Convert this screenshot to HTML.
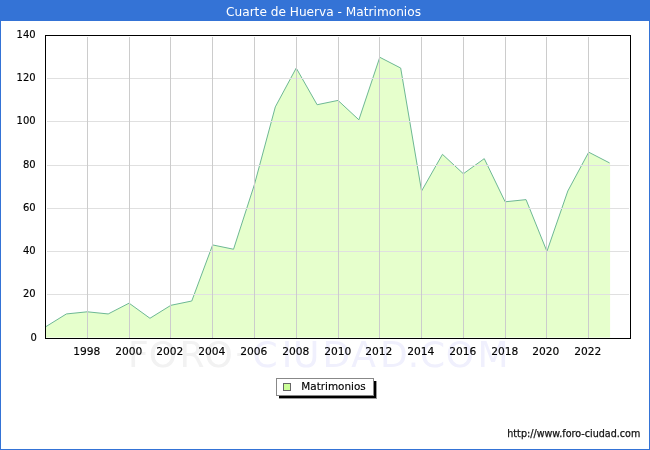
<!DOCTYPE html>
<html><head><meta charset="utf-8"><title>Cuarte de Huerva - Matrimonios</title>
<style>html,body{margin:0;padding:0;background:#fff;}svg{display:block;}</style>
</head><body>
<svg width="650" height="450" viewBox="0 0 650 450" style="will-change:transform">
<rect x="0" y="0" width="650" height="450" fill="#fff"/>
<text y="366.5" font-family="DejaVu Sans, sans-serif" font-size="36" font-kerning="none" fill="#f2f2f2"><tspan x="127.97 148.8 179.5 204.5">FORO</tspan></text>
<text x="235.5" y="363.5" font-family="DejaVu Sans, sans-serif" font-size="36" fill="#f2f2f2">-</text>
<text y="366.5" font-family="DejaVu Sans, sans-serif" font-size="36" font-kerning="none" fill="#f0f0fd"><tspan x="252.6 281.7 292.9 322.5 351.2 380.0 407.65 420.0 445.8 477.5">CIUDAD.COM</tspan></text>
<polygon points="45.50,337.5 45.50,326.89 66.39,313.95 87.29,311.80 108.18,313.95 129.07,303.17 149.96,318.27 170.86,305.32 191.75,301.01 212.64,244.93 233.54,249.24 254.43,184.53 275.32,106.88 296.21,68.06 317.11,104.72 338.00,100.41 358.89,119.82 379.79,57.27 400.68,68.06 421.57,191.00 442.46,154.34 463.36,173.75 484.25,158.65 505.14,201.79 526.04,199.63 546.93,251.40 567.82,191.00 588.71,152.18 609.61,162.96 610.1,162.96 610.1,337.5" fill="#e6ffcc" stroke="none"/>
<polyline points="45.50,326.89 66.39,313.95 87.29,311.80 108.18,313.95 129.07,303.17 149.96,318.27 170.86,305.32 191.75,301.01 212.64,244.93 233.54,249.24 254.43,184.53 275.32,106.88 296.21,68.06 317.11,104.72 338.00,100.41 358.89,119.82 379.79,57.27 400.68,68.06 421.57,191.00 442.46,154.34 463.36,173.75 484.25,158.65 505.14,201.79 526.04,199.63 546.93,251.40 567.82,191.00 588.71,152.18 609.61,162.96" fill="none" stroke="#6db894" stroke-width="1" stroke-linejoin="miter"/>
<g shape-rendering="crispEdges"><line x1="47" y1="78.5" x2="629" y2="78.5" stroke="#e0e0e0" stroke-width="1"/><line x1="47" y1="121.5" x2="629" y2="121.5" stroke="#e0e0e0" stroke-width="1"/><line x1="47" y1="165.5" x2="629" y2="165.5" stroke="#e0e0e0" stroke-width="1"/><line x1="47" y1="208.5" x2="629" y2="208.5" stroke="#e0e0e0" stroke-width="1"/><line x1="47" y1="251.5" x2="629" y2="251.5" stroke="#e0e0e0" stroke-width="1"/><line x1="47" y1="294.5" x2="629" y2="294.5" stroke="#e0e0e0" stroke-width="1"/><line x1="87.5" y1="37" x2="87.5" y2="338" stroke="#cccccc" stroke-width="1"/><line x1="129.5" y1="37" x2="129.5" y2="338" stroke="#cccccc" stroke-width="1"/><line x1="170.5" y1="37" x2="170.5" y2="338" stroke="#cccccc" stroke-width="1"/><line x1="212.5" y1="37" x2="212.5" y2="338" stroke="#cccccc" stroke-width="1"/><line x1="254.5" y1="37" x2="254.5" y2="338" stroke="#cccccc" stroke-width="1"/><line x1="296.5" y1="37" x2="296.5" y2="338" stroke="#cccccc" stroke-width="1"/><line x1="338.5" y1="37" x2="338.5" y2="338" stroke="#cccccc" stroke-width="1"/><line x1="379.5" y1="37" x2="379.5" y2="338" stroke="#cccccc" stroke-width="1"/><line x1="421.5" y1="37" x2="421.5" y2="338" stroke="#cccccc" stroke-width="1"/><line x1="463.5" y1="37" x2="463.5" y2="338" stroke="#cccccc" stroke-width="1"/><line x1="505.5" y1="37" x2="505.5" y2="338" stroke="#cccccc" stroke-width="1"/><line x1="546.5" y1="37" x2="546.5" y2="338" stroke="#cccccc" stroke-width="1"/><line x1="588.5" y1="37" x2="588.5" y2="338" stroke="#cccccc" stroke-width="1"/></g>
<rect x="45.5" y="35.5" width="585" height="303" fill="none" stroke="#000" stroke-width="1" shape-rendering="crispEdges"/>
<text x="36.9" y="340.9" text-anchor="end" font-family="DejaVu Sans, sans-serif" font-size="10.67" fill="#000" stroke="#000" stroke-width="0.15" textLength="6.35" lengthAdjust="spacingAndGlyphs">0</text>
<text x="35.6" y="296.9" text-anchor="end" font-family="DejaVu Sans, sans-serif" font-size="10.67" fill="#000" stroke="#000" stroke-width="0.15" textLength="12.70" lengthAdjust="spacingAndGlyphs">20</text>
<text x="35.6" y="253.9" text-anchor="end" font-family="DejaVu Sans, sans-serif" font-size="10.67" fill="#000" stroke="#000" stroke-width="0.15" textLength="12.70" lengthAdjust="spacingAndGlyphs">40</text>
<text x="35.6" y="210.9" text-anchor="end" font-family="DejaVu Sans, sans-serif" font-size="10.67" fill="#000" stroke="#000" stroke-width="0.15" textLength="12.70" lengthAdjust="spacingAndGlyphs">60</text>
<text x="35.6" y="167.9" text-anchor="end" font-family="DejaVu Sans, sans-serif" font-size="10.67" fill="#000" stroke="#000" stroke-width="0.15" textLength="12.70" lengthAdjust="spacingAndGlyphs">80</text>
<text x="35.6" y="123.9" text-anchor="end" font-family="DejaVu Sans, sans-serif" font-size="10.67" fill="#000" stroke="#000" stroke-width="0.15" textLength="19.05" lengthAdjust="spacingAndGlyphs">100</text>
<text x="35.6" y="80.9" text-anchor="end" font-family="DejaVu Sans, sans-serif" font-size="10.67" fill="#000" stroke="#000" stroke-width="0.15" textLength="19.05" lengthAdjust="spacingAndGlyphs">120</text>
<text x="35.6" y="37.9" text-anchor="end" font-family="DejaVu Sans, sans-serif" font-size="10.67" fill="#000" stroke="#000" stroke-width="0.15" textLength="19.05" lengthAdjust="spacingAndGlyphs">140</text>
<text x="86.7" y="355" text-anchor="middle" font-family="DejaVu Sans, sans-serif" font-size="10.67" fill="#000" stroke="#000" stroke-width="0.15">1998</text>
<text x="128.7" y="355" text-anchor="middle" font-family="DejaVu Sans, sans-serif" font-size="10.67" fill="#000" stroke="#000" stroke-width="0.15">2000</text>
<text x="169.7" y="355" text-anchor="middle" font-family="DejaVu Sans, sans-serif" font-size="10.67" fill="#000" stroke="#000" stroke-width="0.15">2002</text>
<text x="211.7" y="355" text-anchor="middle" font-family="DejaVu Sans, sans-serif" font-size="10.67" fill="#000" stroke="#000" stroke-width="0.15">2004</text>
<text x="253.7" y="355" text-anchor="middle" font-family="DejaVu Sans, sans-serif" font-size="10.67" fill="#000" stroke="#000" stroke-width="0.15">2006</text>
<text x="295.7" y="355" text-anchor="middle" font-family="DejaVu Sans, sans-serif" font-size="10.67" fill="#000" stroke="#000" stroke-width="0.15">2008</text>
<text x="337.7" y="355" text-anchor="middle" font-family="DejaVu Sans, sans-serif" font-size="10.67" fill="#000" stroke="#000" stroke-width="0.15">2010</text>
<text x="378.7" y="355" text-anchor="middle" font-family="DejaVu Sans, sans-serif" font-size="10.67" fill="#000" stroke="#000" stroke-width="0.15">2012</text>
<text x="420.7" y="355" text-anchor="middle" font-family="DejaVu Sans, sans-serif" font-size="10.67" fill="#000" stroke="#000" stroke-width="0.15">2014</text>
<text x="462.7" y="355" text-anchor="middle" font-family="DejaVu Sans, sans-serif" font-size="10.67" fill="#000" stroke="#000" stroke-width="0.15">2016</text>
<text x="504.7" y="355" text-anchor="middle" font-family="DejaVu Sans, sans-serif" font-size="10.67" fill="#000" stroke="#000" stroke-width="0.15">2018</text>
<text x="545.7" y="355" text-anchor="middle" font-family="DejaVu Sans, sans-serif" font-size="10.67" fill="#000" stroke="#000" stroke-width="0.15">2020</text>
<text x="587.7" y="355" text-anchor="middle" font-family="DejaVu Sans, sans-serif" font-size="10.67" fill="#000" stroke="#000" stroke-width="0.15">2022</text>
<rect x="0" y="0" width="650" height="21" fill="#3473d6"/>
<rect x="0" y="0" width="1" height="450" fill="#3473d6"/>
<rect x="649" y="0" width="1" height="450" fill="#3473d6"/>
<rect x="0" y="449" width="650" height="1" fill="#3473d6"/>
<text x="226" y="16" font-family="DejaVu Sans, sans-serif" font-size="12" fill="#fff" textLength="195" lengthAdjust="spacingAndGlyphs">Cuarte de Huerva - Matrimonios</text>
<rect x="279" y="381" width="98" height="18" fill="#9a9a9a"/>
<rect x="279" y="381" width="97" height="17" fill="#000"/>
<rect x="276.5" y="378.5" width="97" height="17" fill="#fff" stroke="#888" stroke-width="1"/>
<rect x="283.5" y="383.5" width="7" height="7" fill="#ccff99" stroke="#666" stroke-width="1"/>
<text x="301.3" y="390" font-family="DejaVu Sans, sans-serif" font-size="10.67" fill="#000" stroke="#000" stroke-width="0.15" textLength="64.5" lengthAdjust="spacingAndGlyphs">Matrimonios</text>
<text x="507.3" y="437" font-family="DejaVu Sans, sans-serif" font-size="10" fill="#111" stroke="#111" stroke-width="0.25" textLength="133" lengthAdjust="spacingAndGlyphs">http://www.foro-ciudad.com</text>
</svg>
</body></html>
